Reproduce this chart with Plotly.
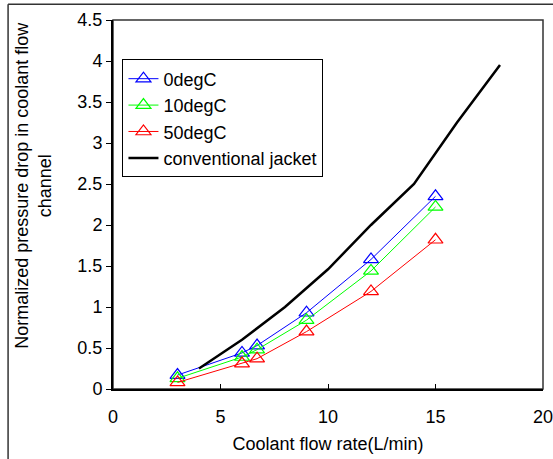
import plotly.graph_objects as go

# flow rates (L/min)
flow = [3, 6, 6.7, 9, 12, 15]
dp_0deg = [0.17, 0.44, 0.53, 0.93, 1.58, 2.35]
dp_10deg = [0.13, 0.39, 0.48, 0.84, 1.44, 2.22]
dp_50deg = [0.08, 0.31, 0.37, 0.70, 1.19, 1.82]

flow_conv = [4, 6, 8, 10, 12, 14, 16, 18]
dp_conv = [0.25, 0.6, 1.0, 1.46, 2.0, 2.5, 3.25, 3.95]

font = "Arial, Liberation Sans, sans-serif"

fig = go.Figure()

series = [
    ("0degC", dp_0deg, "#0000FF"),
    ("10degC", dp_10deg, "#00FF00"),
    ("50degC", dp_50deg, "#FF0000"),
]
for name, vals, col in series:
    fig.add_trace(go.Scatter(
        x=flow, y=vals, name=name, mode="lines+markers",
        line=dict(color=col, width=1),
        marker=dict(symbol="triangle-up-open", size=13, color=col,
                    line=dict(width=1.2, color=col)),
    ))

fig.add_trace(go.Scatter(
    x=flow_conv, y=dp_conv, name="conventional jacket", mode="lines",
    line=dict(color="black", width=2.5),
))

fig.update_layout(
    width=553, height=459,
    margin=dict(l=113, r=10, t=20, b=70),
    paper_bgcolor="white", plot_bgcolor="white",
    font=dict(family=font, size=18, color="black"),
    showlegend=True,
    legend=dict(
        x=0.022, y=0.893, xanchor="left", yanchor="top",
        bordercolor="black", borderwidth=1, bgcolor="white",
        font=dict(size=18), tracegroupgap=0,
    ),
    xaxis=dict(
        range=[0, 20], dtick=5, showgrid=False, zeroline=False,
        showline=True, linecolor="black", linewidth=2,
        ticks="inside", ticklen=5, tickcolor="black",
        tickfont=dict(size=18), ticklabelstandoff=10,
        ticklabeloverflow="allow", automargin=False,
        title=dict(text="Coolant flow rate(L/min)", standoff=12, font=dict(size=18)),
    ),
    yaxis=dict(
        range=[0, 4.5], dtick=0.5, showgrid=False, zeroline=False,
        showline=True, linecolor="black", linewidth=2,
        ticks="outside", ticklen=5, tickcolor="black",
        tickfont=dict(size=18), automargin=False,
    ),
    shapes=[
        # top / right border of the plot area
        dict(type="rect", xref="paper", yref="paper", x0=0, x1=1, y0=0, y1=1,
             line=dict(color="#333333", width=1.5), layer="below"),
        # outer frame (top and left edges)
        dict(type="line", xref="paper", yref="paper", x0=-0.244, x1=1.03,
             y0=1.043, y1=1.043, line=dict(color="#333333", width=1.5)),
        dict(type="line", xref="paper", yref="paper", x0=-0.244, x1=-0.244,
             y0=-0.2, y1=1.043, line=dict(color="#333333", width=1.5)),
    ],
    annotations=[
        dict(text="Normalized pressure drop in coolant flow<br>channel",
             xref="paper", yref="paper", x=-0.184, y=0.553,
             xanchor="center", yanchor="middle",
             textangle=-90, showarrow=False, font=dict(size=18)),
    ],
)

fig.write_html("out.html", config={"displayModeBar": False},
               post_script="document.body.style.margin='0px';")
